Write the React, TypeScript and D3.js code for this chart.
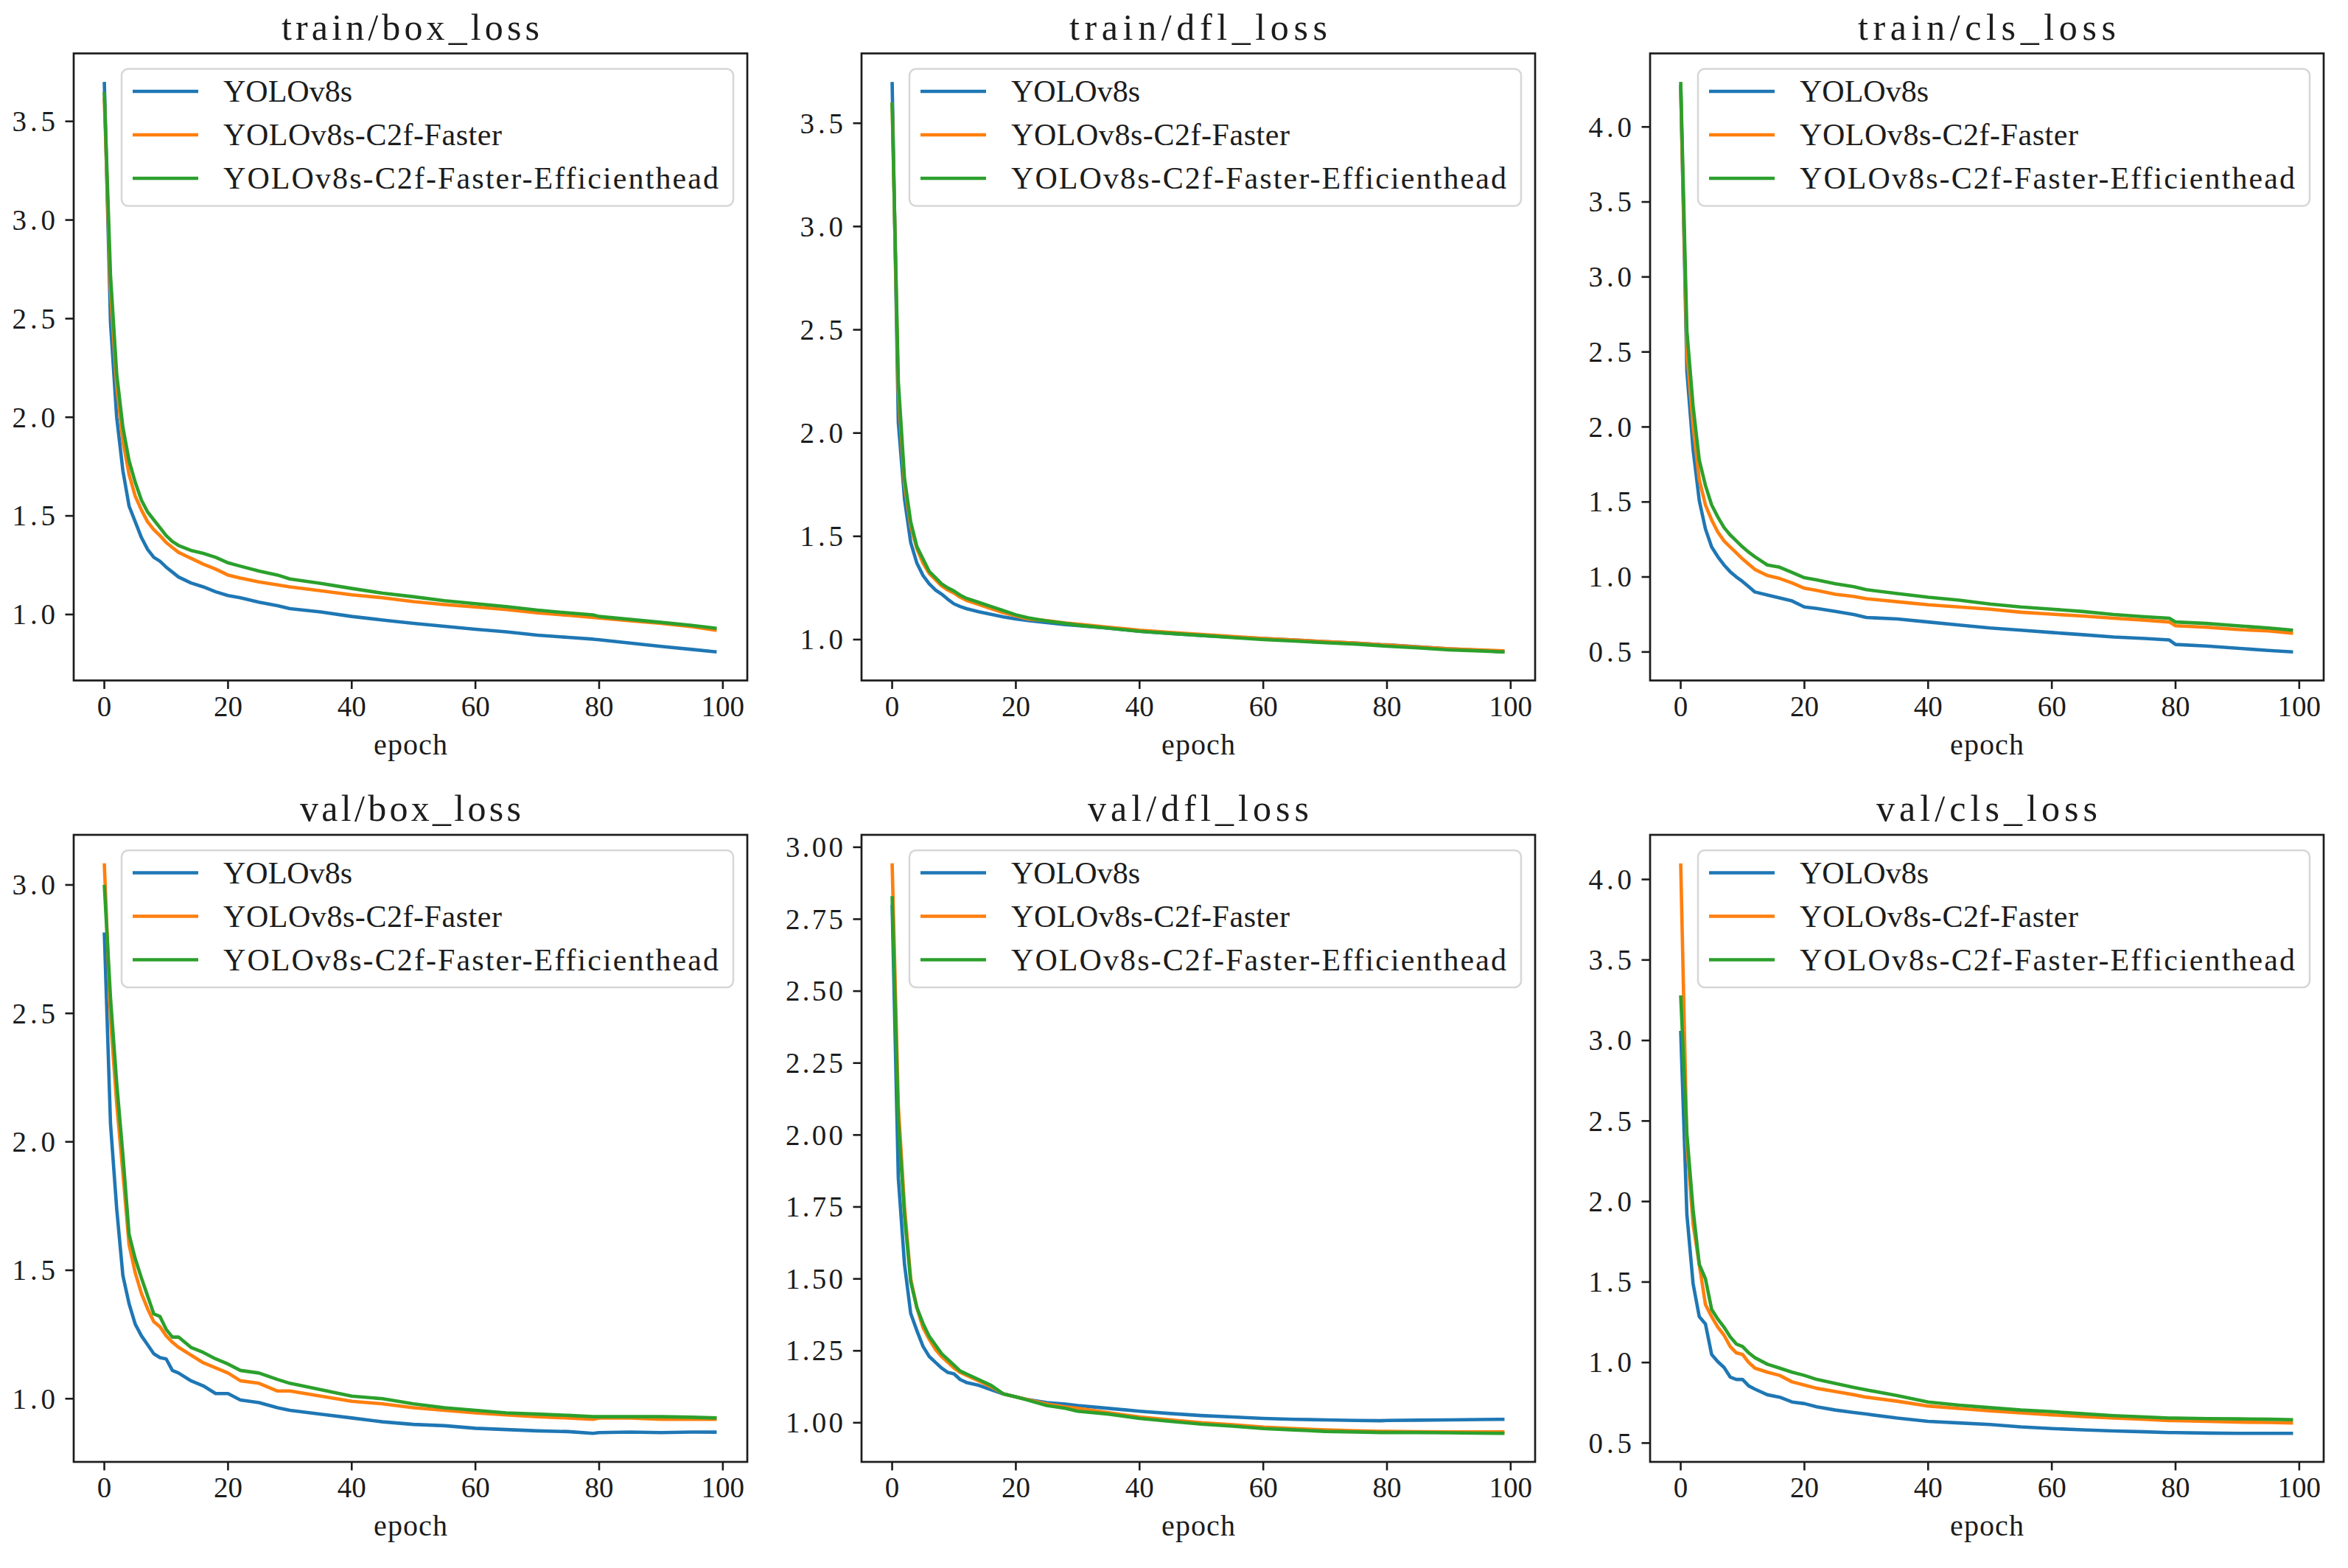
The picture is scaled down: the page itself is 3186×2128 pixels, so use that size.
import React from 'react';
import * as d3 from 'd3';

// sampled epochs (same for every curve)
const epochs = [0, 1, 2, 3, 4, 5, 6, 7, 8, 9, 10, 11, 12, 14, 16, 18, 20, 22, 25, 28, 30, 35, 40, 45, 50, 55, 60, 65, 70, 75, 79, 80, 85, 90, 95, 99];

const seriesNames = ['YOLOv8s', 'YOLOv8s-C2f-Faster', 'YOLOv8s-C2f-Faster-Efficienthead'];
const seriesColors = ['#1f77b4', '#ff7f0e', '#2ca02c'];
const xTicks = [0, 20, 40, 60, 80, 100];

// train/box_loss
const trainBoxBase = [3.70, 2.48, 2.00, 1.73, 1.55, 1.47, 1.39, 1.33, 1.29, 1.27, 1.24, 1.215, 1.19, 1.16, 1.14, 1.115, 1.096, 1.085, 1.062, 1.045, 1.03, 1.013, 0.99, 0.972, 0.955, 0.94, 0.925, 0.912, 0.895, 0.884, 0.875, 0.872, 0.855, 0.838, 0.823, 0.81];
const trainBoxFaster = [3.62, 2.64, 2.16, 1.88, 1.71, 1.60, 1.53, 1.47, 1.43, 1.40, 1.365, 1.34, 1.315, 1.285, 1.255, 1.23, 1.20, 1.185, 1.165, 1.15, 1.14, 1.12, 1.10, 1.085, 1.065, 1.05, 1.038, 1.025, 1.008, 0.996, 0.985, 0.982, 0.968, 0.955, 0.938, 0.92];
const trainBoxEff = [3.65, 2.72, 2.22, 1.95, 1.78, 1.67, 1.58, 1.52, 1.48, 1.44, 1.40, 1.37, 1.35, 1.325, 1.31, 1.29, 1.262, 1.245, 1.22, 1.20, 1.18, 1.158, 1.132, 1.108, 1.09, 1.07, 1.055, 1.04, 1.022, 1.008, 0.998, 0.99, 0.975, 0.96, 0.945, 0.93];

// train/dfl_loss
const trainDflBase = [3.70, 2.05, 1.68, 1.47, 1.37, 1.31, 1.27, 1.24, 1.22, 1.195, 1.173, 1.16, 1.15, 1.135, 1.122, 1.11, 1.10, 1.092, 1.082, 1.072, 1.068, 1.055, 1.04, 1.03, 1.02, 1.012, 1.005, 0.998, 0.99, 0.983, 0.976, 0.975, 0.965, 0.955, 0.948, 0.94];
const trainDflFaster = [3.60, 2.20, 1.75, 1.55, 1.44, 1.37, 1.32, 1.29, 1.26, 1.24, 1.225, 1.205, 1.19, 1.17, 1.15, 1.13, 1.115, 1.10, 1.092, 1.08, 1.075, 1.06, 1.045, 1.035, 1.025, 1.015, 1.005, 0.998, 0.99, 0.983, 0.975, 0.974, 0.964, 0.955, 0.95, 0.945];
const trainDflEff = [3.60, 2.25, 1.78, 1.57, 1.45, 1.39, 1.33, 1.30, 1.27, 1.25, 1.235, 1.215, 1.20, 1.18, 1.16, 1.14, 1.12, 1.105, 1.09, 1.078, 1.07, 1.055, 1.04, 1.03, 1.02, 1.01, 1.0, 0.993, 0.985, 0.978, 0.97, 0.968, 0.96, 0.95, 0.945, 0.94];

// train/cls_loss
const trainClsBase = [4.28, 2.37, 1.85, 1.51, 1.32, 1.20, 1.135, 1.08, 1.035, 1.0, 0.97, 0.935, 0.90, 0.88, 0.86, 0.84, 0.80, 0.79, 0.77, 0.75, 0.73, 0.72, 0.70, 0.68, 0.66, 0.645, 0.63, 0.615, 0.60, 0.59, 0.58, 0.55, 0.54, 0.525, 0.51, 0.50];
const trainClsFaster = [4.25, 2.50, 2.01, 1.65, 1.48, 1.38, 1.30, 1.24, 1.20, 1.16, 1.12, 1.085, 1.05, 1.01, 0.99, 0.96, 0.925, 0.91, 0.885, 0.87, 0.855, 0.835, 0.815, 0.80, 0.785, 0.765, 0.752, 0.74, 0.725, 0.712, 0.70, 0.675, 0.665, 0.65, 0.64, 0.625];
const trainClsEff = [4.30, 2.64, 2.14, 1.78, 1.61, 1.48, 1.40, 1.33, 1.28, 1.24, 1.20, 1.165, 1.135, 1.08, 1.065, 1.03, 0.995, 0.98, 0.955, 0.935, 0.915, 0.89, 0.865, 0.845, 0.82, 0.80, 0.785, 0.77, 0.75, 0.735, 0.725, 0.70, 0.69, 0.675, 0.66, 0.645];

// val/box_loss
const valBoxBase = [2.815, 2.07, 1.74, 1.48, 1.37, 1.29, 1.245, 1.21, 1.175, 1.16, 1.155, 1.11, 1.10, 1.07, 1.05, 1.02, 1.02, 0.995, 0.985, 0.965, 0.955, 0.94, 0.925, 0.91, 0.90, 0.895, 0.885, 0.88, 0.875, 0.872, 0.865, 0.868, 0.87, 0.868, 0.87, 0.87];
const valBoxFaster = [3.084, 2.48, 2.15, 1.88, 1.60, 1.49, 1.41, 1.35, 1.30, 1.28, 1.245, 1.22, 1.20, 1.17, 1.14, 1.12, 1.10, 1.07, 1.06, 1.03, 1.03, 1.01, 0.99, 0.98, 0.965, 0.955, 0.945, 0.937, 0.93, 0.925, 0.92, 0.925, 0.925, 0.92, 0.92, 0.92];
const valBoxEff = [3.0, 2.56, 2.23, 1.95, 1.64, 1.545, 1.47, 1.40, 1.33, 1.32, 1.27, 1.24, 1.24, 1.20, 1.18, 1.155, 1.135, 1.11, 1.10, 1.075, 1.06, 1.035, 1.01, 1.0, 0.98, 0.965, 0.955, 0.945, 0.94, 0.935, 0.93, 0.93, 0.93, 0.93, 0.928, 0.925];

// val/dfl_loss
const valDflBase = [2.80, 1.85, 1.55, 1.38, 1.32, 1.265, 1.23, 1.21, 1.19, 1.175, 1.17, 1.15, 1.14, 1.13, 1.115, 1.10, 1.09, 1.08, 1.07, 1.065, 1.06, 1.05, 1.04, 1.032, 1.025, 1.02, 1.015, 1.012, 1.01, 1.008, 1.007, 1.008, 1.009, 1.01, 1.011, 1.012];
const valDflFaster = [2.944, 2.10, 1.75, 1.50, 1.40, 1.33, 1.29, 1.255, 1.23, 1.21, 1.19, 1.175, 1.165, 1.145, 1.125, 1.10, 1.09, 1.08, 1.065, 1.055, 1.05, 1.035, 1.02, 1.01, 1.0, 0.993, 0.985, 0.98, 0.975, 0.972, 0.97, 0.97, 0.969, 0.968, 0.968, 0.968];
const valDflEff = [2.83, 2.05, 1.72, 1.49, 1.40, 1.345, 1.30, 1.27, 1.24, 1.22, 1.20, 1.18, 1.17, 1.15, 1.13, 1.10, 1.09, 1.078, 1.06, 1.05, 1.04, 1.03, 1.015, 1.005, 0.995, 0.988, 0.98, 0.975, 0.97, 0.968, 0.966, 0.966, 0.966, 0.965, 0.964, 0.963];

// val/cls_loss
const valClsBase = [3.06, 1.92, 1.49, 1.285, 1.24, 1.05, 1.005, 0.97, 0.91, 0.895, 0.895, 0.855, 0.835, 0.80, 0.785, 0.755, 0.745, 0.725, 0.705, 0.69, 0.68, 0.655, 0.635, 0.625, 0.615, 0.60, 0.59, 0.582, 0.575, 0.57, 0.565, 0.565, 0.562, 0.56, 0.56, 0.56];
const valClsFaster = [4.10, 2.36, 1.86, 1.61, 1.36, 1.285, 1.22, 1.17, 1.10, 1.06, 1.05, 1.0, 0.965, 0.94, 0.92, 0.88, 0.86, 0.84, 0.82, 0.80, 0.785, 0.76, 0.73, 0.715, 0.70, 0.687, 0.675, 0.665, 0.655, 0.648, 0.64, 0.64, 0.635, 0.63, 0.628, 0.625];
const valClsEff = [3.28, 2.42, 1.95, 1.61, 1.52, 1.33, 1.27, 1.22, 1.16, 1.115, 1.10, 1.06, 1.03, 0.99, 0.965, 0.94, 0.92, 0.895, 0.87, 0.845, 0.83, 0.795, 0.755, 0.735, 0.72, 0.705, 0.695, 0.682, 0.67, 0.662, 0.655, 0.655, 0.652, 0.65, 0.648, 0.645];

const ticksHalf1 = [1.0, 1.5, 2.0, 2.5, 3.0, 3.5];
const ticksHalf05 = [0.5, 1.0, 1.5, 2.0, 2.5, 3.0, 3.5, 4.0];
const ticksValBox = [1.0, 1.5, 2.0, 2.5, 3.0];
const ticksQuarter = [1.0, 1.25, 1.5, 1.75, 2.0, 2.25, 2.5, 2.75, 3.0];

const panels = [
  { title: 'train/box_loss', series: [trainBoxBase, trainBoxFaster, trainBoxEff], yTicks: ticksHalf1, fmt: '.1f' },
  { title: 'train/dfl_loss', series: [trainDflBase, trainDflFaster, trainDflEff], yTicks: ticksHalf1, fmt: '.1f' },
  { title: 'train/cls_loss', series: [trainClsBase, trainClsFaster, trainClsEff], yTicks: ticksHalf05, fmt: '.1f' },
  { title: 'val/box_loss', series: [valBoxBase, valBoxFaster, valBoxEff], yTicks: ticksValBox, fmt: '.1f' },
  { title: 'val/dfl_loss', series: [valDflBase, valDflFaster, valDflEff], yTicks: ticksQuarter, fmt: '.2f' },
  { title: 'val/cls_loss', series: [valClsBase, valClsFaster, valClsEff], yTicks: ticksHalf05, fmt: '.1f' },
];

const W = 3186;
const H = 2128;
const colLeft = [100, 1169, 2239];
const rowTop = [72.5, 1133];
const axW = 914;
const axH = 851;
const FONT_NAME = 'Liberation Serif';
const FONT = "'Liberation Serif', 'DejaVu Serif', serif";
const INK = '#1c1c1c';

// SimSun-like half-width metric: each latin char takes 0.5em; never squeeze below the natural width
const measureCtx = typeof document !== 'undefined' ? document.createElement('canvas').getContext('2d') : null;
const fitLen = (s: string, fs: number) => {
  const mono = s.length * fs * 0.5;
  if (!measureCtx) return mono;
  measureCtx.font = `${fs}px '${FONT_NAME}'`;
  return Math.max(mono, measureCtx.measureText(s).width);
};

const Label = ({ s, fs, ...rest }: { s: string; fs: number; [k: string]: any }) => (
  <text fontSize={fs} fontFamily={FONT} fill={INK} textLength={fitLen(s, fs)} lengthAdjust="spacing" {...rest}>
    {s}
  </text>
);

const Panel = ({ p, x0, y0 }: { p: typeof panels[number]; x0: number; y0: number }) => {
  const all = p.series.flat();
  const lo = d3.min(all)!;
  const hi = d3.max(all)!;
  const yPad = (hi - lo) * 0.05;
  const y = d3.scaleLinear().domain([lo - yPad, hi + yPad]).range([y0 + axH, y0]);
  const [e0, e1] = d3.extent(epochs) as [number, number];
  const xPad = (e1 - e0) * 0.05;
  const x = d3.scaleLinear().domain([e0 - xPad, e1 + xPad]).range([x0, x0 + axW]);
  const line = d3.line<number>().x((_, i) => x(epochs[i])).y((d) => y(d));
  const fmt = d3.format(p.fmt);
  const tickLen = 11.5;
  const tickFs = 39;

  const legX = x0 + 65;
  const legY = y0 + 21;
  const legW = 830;
  const legH = 186;
  const rowGap = 59;

  return (
    <g>
      <rect x={x0} y={y0} width={axW} height={axH} fill="#fff" />
      {p.series.map((s, i) => (
        <path key={i} d={line(s) ?? ''} fill="none" stroke={seriesColors[i]} strokeWidth={4.6} strokeLinejoin="round" />
      ))}

      {/* y ticks */}
      {p.yTicks.map((t) => (
        <g key={'y' + t}>
          <line x1={x0 - tickLen} x2={x0} y1={y(t)} y2={y(t)} stroke={INK} strokeWidth={2.6} />
          <Label s={fmt(t)} fs={tickFs} x={x0 - 25} y={y(t)} dy="0.34em" textAnchor="end" />
        </g>
      ))}

      {/* x ticks */}
      {xTicks.map((t) => (
        <g key={'x' + t}>
          <line x1={x(t)} x2={x(t)} y1={y0 + axH} y2={y0 + axH + tickLen} stroke={INK} strokeWidth={2.6} />
          <Label s={String(t)} fs={tickFs} x={x(t)} y={y0 + axH + 48} textAnchor="middle" />
        </g>
      ))}

      <rect x={x0} y={y0} width={axW} height={axH} fill="none" stroke={INK} strokeWidth={2.7} />

      {/* legend */}
      <rect x={legX} y={legY} width={legW} height={legH} rx={9} fill="#fff" fillOpacity={0.8} stroke="#d6d6d6" strokeWidth={2.5} />
      {seriesNames.map((name, i) => {
        const cy = legY + 30.5 + i * rowGap;
        return (
          <g key={name}>
            <line x1={legX + 15} x2={legX + 104} y1={cy} y2={cy} stroke={seriesColors[i]} strokeWidth={4.6} />
            <Label s={name} fs={42} x={legX + 138} y={cy} dy="0.34em" />
          </g>
        );
      })}

      <Label s={p.title} fs={50} x={x0 + axW / 2} y={y0 - 19} textAnchor="middle" />
      <Label s="epoch" fs={40} x={x0 + axW / 2} y={y0 + axH + 100} textAnchor="middle" />
    </g>
  );
};

export default function App() {
  return (
    <svg width={W} height={H} viewBox={`0 0 ${W} ${H}`} style={{ position: 'absolute', left: 0, top: 0, background: '#fff' }}>
      <rect width={W} height={H} fill="#fff" />
      {panels.map((p, i) => (
        <Panel key={p.title} p={p} x0={colLeft[i % 3]} y0={rowTop[Math.floor(i / 3)]} />
      ))}
    </svg>
  );
}
